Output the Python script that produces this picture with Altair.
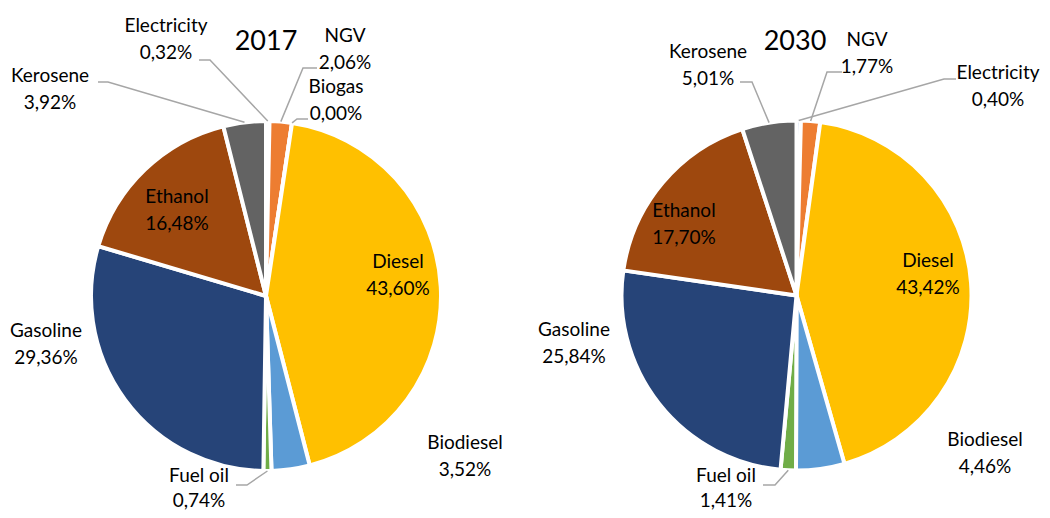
import math
import altair as alt
import pandas as pd

# ---------------- data ----------------
years = ["2017", "2030"]
categories_2017 = ["Electricity", "NGV", "Biogas", "Diesel", "Biodiesel",
                   "Fuel oil", "Gasoline", "Ethanol", "Kerosene"]
shares_2017 = [0.32, 2.06, 0.00, 43.60, 3.52, 0.74, 29.36, 16.48, 3.92]
categories_2030 = ["Electricity", "NGV", "Diesel", "Biodiesel",
                   "Fuel oil", "Gasoline", "Ethanol", "Kerosene"]
shares_2030 = [0.40, 1.77, 43.42, 4.46, 1.41, 25.84, 17.70, 5.01]

# ---------------- style / layout ----------------
palette = {
    "Electricity": "#4472C4", "NGV": "#ED7D31", "Biogas": "#A5A5A5",
    "Diesel": "#FFC000", "Biodiesel": "#5B9BD5", "Fuel oil": "#70AD47",
    "Gasoline": "#264478", "Ethanol": "#9E480E", "Kerosene": "#636363",
}
FONT = "Lato"
FS = 19
LINE_GAP = 27
R = 175
OFF = 8  # page margin
W, H = 1050 - 2 * OFF, 518 - 2 * OFF

pie_center = {"2017": (266, 296), "2030": (796.5, 295.5)}
title_pos = {"2017": (266, 42), "2030": (795, 42)}

# label centre (page px), line gap, and leader elbow/end (page px) or None
label_layout = {
    "2017": {
        "Electricity": ((166, 39), LINE_GAP, ((210, 60), (199, 60))),
        "NGV": ((345, 49), LINE_GAP, ((303, 68), (317, 68))),
        "Biogas": ((336, 100.5), LINE_GAP, ((297, 119), (308, 119))),
        "Diesel": ((398, 275), LINE_GAP, None),
        "Biodiesel": ((465, 456), LINE_GAP, None),
        "Fuel oil": ((199, 488), 25, ((247, 485), (236, 485))),
        "Gasoline": ((46, 344), LINE_GAP, None),
        "Ethanol": ((177, 210), LINE_GAP, None),
        "Kerosene": ((50, 89), LINE_GAP, ((108, 82), (98, 82))),
    },
    "2030": {
        "Electricity": ((998, 86), LINE_GAP, ((944, 79), (956, 79))),
        "NGV": ((867, 53), LINE_GAP, ((827, 72), (842, 72))),
        "Diesel": ((928, 274), LINE_GAP, None),
        "Biodiesel": ((985, 453), LINE_GAP, None),
        "Fuel oil": ((726, 488), 25, ((775, 485), (763, 485))),
        "Gasoline": ((574, 343), LINE_GAP, None),
        "Ethanol": ((684, 224), LINE_GAP, None),
        "Kerosene": ((708, 65), LINE_GAP, ((752, 82), (740, 82))),
    },
}

series = {"2017": (categories_2017, shares_2017),
          "2030": (categories_2030, shares_2030)}


def fmt(v):
    return f"{v:.2f}".replace(".", ",") + "%"


def px_x():
    return alt.X("x:Q", scale=None, axis=None)


def px_y():
    return alt.Y("y:Q", scale=None, axis=None)


layers = []
text_rows, line_rows, title_rows = [], [], []
for yr in years:
    cats, vals = series[yr]
    cx, cy = pie_center[yr]
    df = pd.DataFrame({"cat": cats, "val": vals, "ord": range(len(cats))})
    arc = alt.Chart(df).mark_arc(
        outerRadius=R, stroke="white", strokeWidth=4
    ).encode(
        theta=alt.Theta("val:Q", stack=True, scale=alt.Scale(domain=[0, sum(vals)])),
        order=alt.Order("ord:Q"),
        color=alt.Color("cat:N", scale=alt.Scale(domain=list(palette.keys()),
                                                 range=list(palette.values())),
                        legend=None),
        x=alt.value(cx - OFF), y=alt.value(cy - OFF),
    )
    layers.append(arc)

    total = sum(vals)
    cum = 0.0
    for c, v in zip(cats, vals):
        mid = (cum + v / 2) / total * 2 * math.pi
        cum += v
        (lx, ly), gap, leader = label_layout[yr][c]
        text_rows.append({"x": lx - OFF, "y": ly - OFF - gap / 2, "t": c})
        text_rows.append({"x": lx - OFF, "y": ly - OFF + gap / 2, "t": fmt(v)})
        if leader is not None:
            ex = cx + R * math.sin(mid)
            ey = cy - R * math.cos(mid)
            pts = [(ex, ey), leader[0], leader[1]]
            for i, (px, py) in enumerate(pts):
                line_rows.append({"id": yr + c, "i": i, "x": px - OFF, "y": py - OFF})
    tx, ty = title_pos[yr]
    title_rows.append({"x": tx - OFF, "y": ty - OFF, "t": yr})

lines = alt.Chart(pd.DataFrame(line_rows)).mark_line(
    color="#A6A6A6", strokeWidth=1.5
).encode(x=px_x(), y=px_y(), detail="id:N", order="i:Q")
texts = alt.Chart(pd.DataFrame(text_rows)).mark_text(
    font=FONT, fontSize=FS, color="#000000", baseline="middle", align="center"
).encode(x=px_x(), y=px_y(), text="t:N")
titles = alt.Chart(pd.DataFrame(title_rows)).mark_text(
    font=FONT, fontSize=27, color="#000000", baseline="middle", align="center"
).encode(x=px_x(), y=px_y(), text="t:N")

chart = alt.layer(*layers, lines, texts, titles).resolve_scale(
    theta="independent"
).properties(
    width=W, height=H, padding=0, autosize=alt.AutoSizeParams(type="none")
).configure_view(stroke=None, fill=None)

chart.save("out.html", embed_options={"renderer": "svg", "actions": False})
